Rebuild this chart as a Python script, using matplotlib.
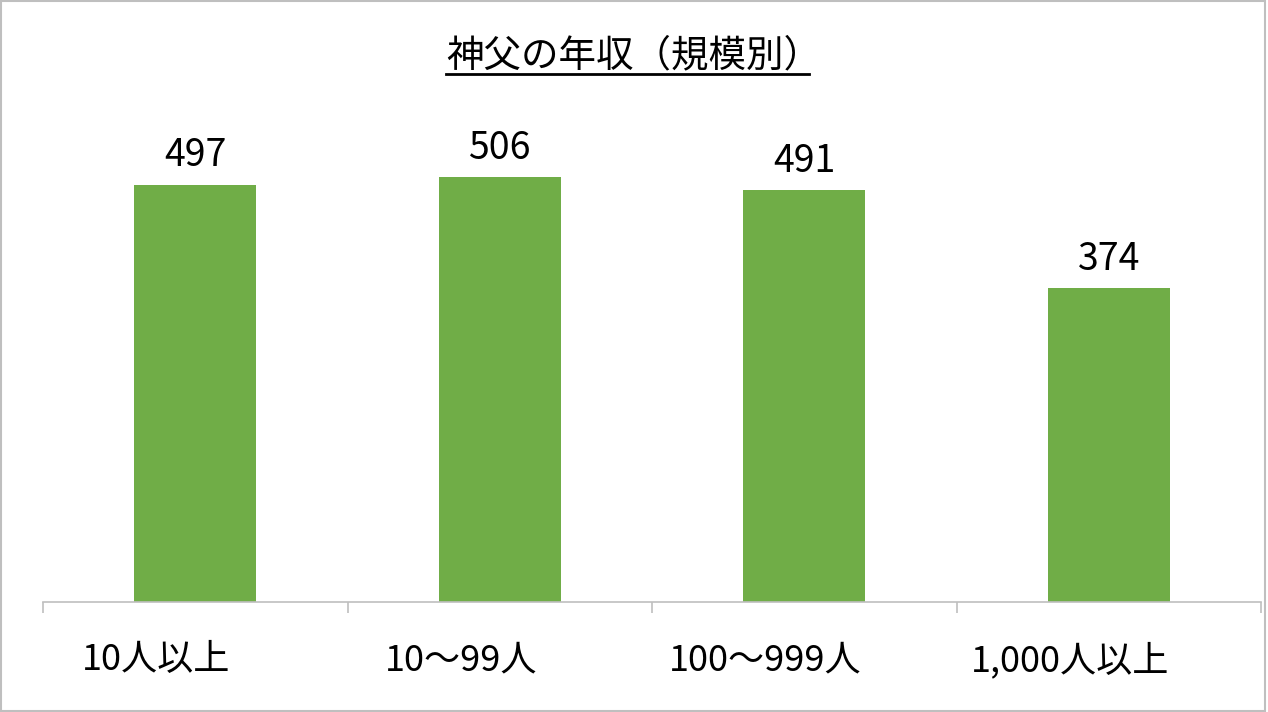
import matplotlib
matplotlib.use("Agg")
import matplotlib.pyplot as plt
from matplotlib.lines import Line2D
from matplotlib.patches import Rectangle
from matplotlib.transforms import ScaledTranslation

plt.rcParams['font.family'] = ['Noto Sans CJK JP', 'DejaVu Sans']

# data
categories = ['10人以上', '10〜99人', '100〜999人', '1,000人以上']
income = [497, 506, 491, 374]
title = '神父の年収（規模別）'

fig = plt.figure(figsize=(12.68, 7.12), dpi=100)
ax = fig.add_axes([43 / 1268, 1 - 602 / 712, (1261 - 43) / 1268, (602 - 98) / 712])

x = list(range(len(categories)))
bars = ax.bar(x, income, width=0.4, color='#70AD47')
for b, v in zip(bars, income):
    ax.annotate(str(v), (b.get_x() + b.get_width() / 2, v), xytext=(0, 13),
                textcoords='offset points', ha='center', va='baseline', fontsize=27)

ax.set_xlim(-0.5, len(categories) - 0.5)
ax.set_ylim(0, 600)
ax.set_yticks([])
ax.set_xticks(x)
ax.set_xticklabels(categories, fontsize=26)
ax.tick_params(axis='x', which='major', length=0, pad=29)
ax.set_xticks([i - 0.5 for i in range(len(categories) + 1)], minor=True)
ax.tick_params(axis='x', which='minor', length=8, color='#BFBFBF', width=1.2)
for s in ['top', 'right', 'left']:
    ax.spines[s].set_visible(False)
ax.spines['bottom'].set_color('#BFBFBF')
ax.spines['bottom'].set_linewidth(1.2)

# category labels sit a little left of the bar centres in the original
shift = ScaledTranslation(-0.39, 0, fig.dpi_scale_trans)
for lbl in ax.get_xticklabels():
    lbl.set_transform(lbl.get_transform() + shift)

# title with underline
t = fig.text(0.5, 1 - 56 / 712, title, ha='center', va='center', fontsize=27)
fig.canvas.draw()
bb = t.get_window_extent().transformed(fig.transFigure.inverted())
uy = 1 - 74 / 712
fig.add_artist(Line2D([bb.x0, bb.x1 - 12 / 1268], [uy, uy], color='black', lw=2,
                      transform=fig.transFigure))

# frame around the chart
fig.add_artist(Rectangle((0.001, 0.002), 0.997, 0.996, transform=fig.transFigure,
                         fill=False, edgecolor='#BFBFBF', lw=1.5))

fig.savefig('out.png', dpi=100)
